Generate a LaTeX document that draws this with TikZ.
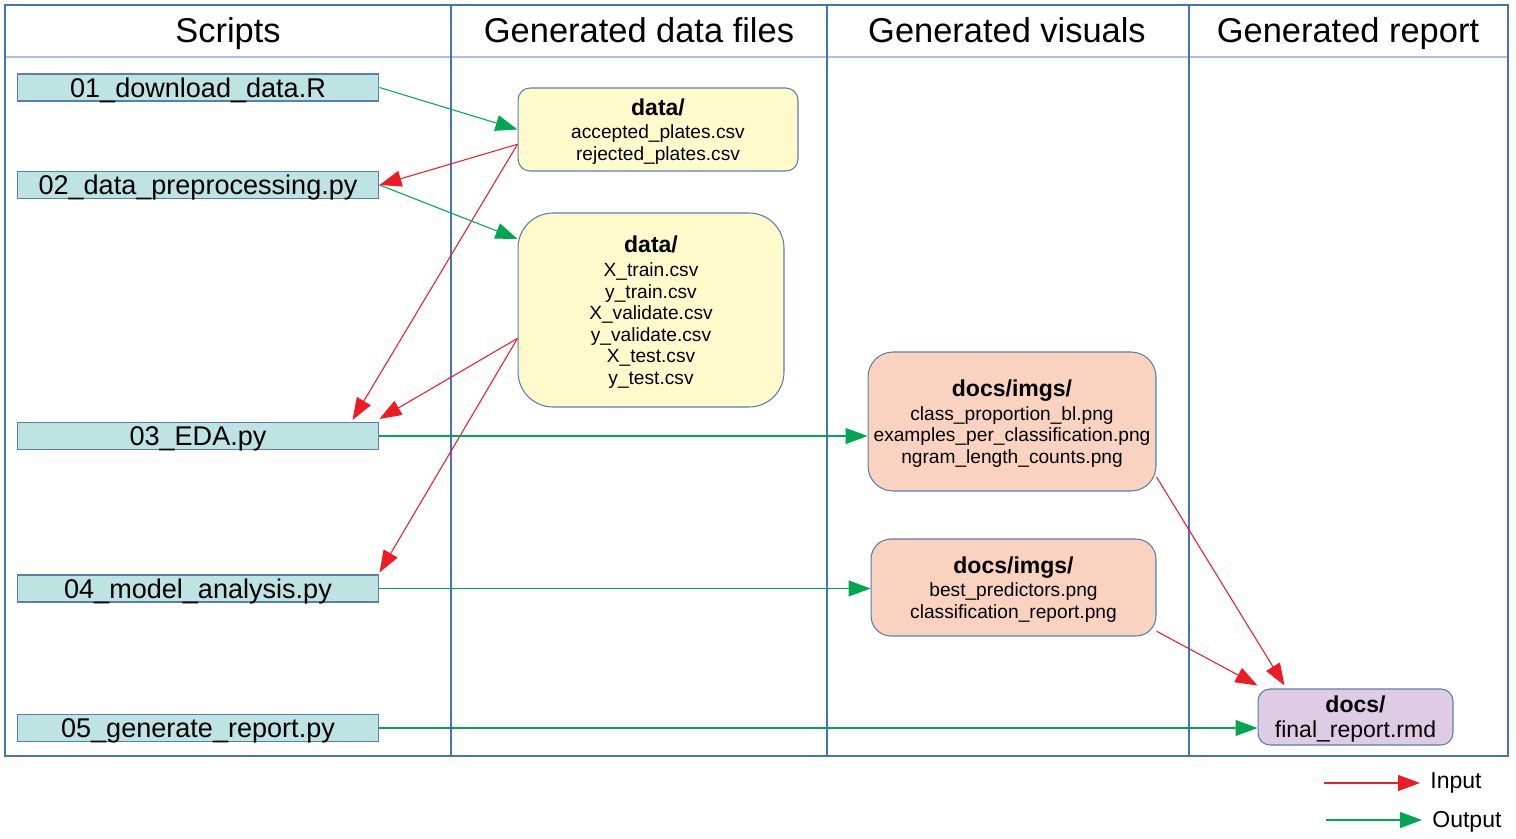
\documentclass[tikz,border=0pt]{standalone}
\usepackage{fontspec}
\setmainfont{Liberation Sans}
\usetikzlibrary{arrows.meta}
\definecolor{lanecol}{HTML}{4A72B0}
\definecolor{headcol}{HTML}{A9C1DE}
\definecolor{boxline}{HTML}{5B7DAA}
\definecolor{scriptfill}{HTML}{BDE3E3}
\definecolor{datafill}{HTML}{FFFACC}
\definecolor{visfill}{HTML}{FAD3C0}
\definecolor{repfill}{HTML}{DECCE5}
\definecolor{inred}{HTML}{ED1C24}
\definecolor{outgreen}{HTML}{00A651}
\newcommand{\boxtitle}[1]{{\fontsize{13.1}{15}\selectfont\bfseries #1}}
\tikzset{
	lanehead/.style={font=\fontsize{19.6}{22}\selectfont, anchor=base, inner sep=0pt},
	script/.style={draw=boxline, fill=scriptfill, line width=0.6pt, minimum width=7.24cm, minimum height=0.54cm, inner sep=0pt, text height=11pt, text depth=0pt, font=\fontsize{15.4}{17}\selectfont},
	filebox/.style={draw=boxline, line width=0.6pt, align=center, inner sep=0pt, text depth=-1pt, font=\fontsize{10.9}{12.3}\selectfont},
	inarrow/.style={draw=inred, line width=0.6pt, -{Triangle[length=0.44cm,width=0.32cm]}, inred},
	outarrow/.style={draw=outgreen, line width=0.6pt, -{Triangle[length=0.44cm,width=0.32cm]}, outgreen},
	legendtext/.style={font=\fontsize{13.1}{15}\selectfont, inner sep=0pt, anchor=base west}
}
\begin{document}
\begin{tikzpicture}[x=0.02cm, y=-0.02cm]
	\useasboundingbox (0,0) rectangle (1516,839);

	\draw[headcol, line width=0.8pt] (5,57) -- (1508,57);
	\draw[lanecol, line width=0.8pt] (5,5) rectangle (1508,756);
	\foreach \lx in {451, 827, 1189}
		\draw[lanecol, line width=0.8pt] (\lx,5) -- (\lx,756);

	\node[lanehead] (hscripts) at (228,42) {Scripts};
	\node[lanehead] (hdata) at (639,42) {Generated data files};
	\node[lanehead] (hvis) at (1007,42) {Generated visuals};
	\node[lanehead] (hrep) at (1348,42) {Generated report};

	\node[script] (dl) at (198,87.5) {01\_download\_data.R};
	\node[script] (prep) at (198,185) {02\_data\_preprocessing.py};
	\node[script] (eda) at (198,436) {03\_EDA.py};
	\node[script] (model) at (198,588.5) {04\_model\_analysis.py};
	\node[script] (gen) at (198,728) {05\_generate\_report.py};

	\node[filebox, fill=datafill, rounded corners=0.24cm, minimum width=5.6cm, minimum height=1.66cm] (plates) at (658,129.5)
		{\boxtitle{data/}\\[0.8pt] accepted\_plates.csv\\[0.3pt] rejected\_plates.csv};
	\node[filebox, fill=datafill, rounded corners=0.7cm, minimum width=5.32cm, minimum height=3.88cm] (splits) at (651,310)
		{\boxtitle{data/}\\[1.6pt] X\_train.csv\\ y\_train.csv\\ X\_validate.csv\\ y\_validate.csv\\ X\_test.csv\\ y\_test.csv};
	\node[filebox, fill=visfill, rounded corners=0.5cm, minimum width=5.76cm, minimum height=2.78cm] (edaimgs) at (1012,421.5)
		{\boxtitle{docs/imgs/}\\[1.5pt] class\_proportion\_bl.png\\ examples\_per\_classification.png\\ ngram\_length\_counts.png};
	\node[filebox, fill=visfill, rounded corners=0.4cm, minimum width=5.7cm, minimum height=1.94cm] (modelimgs) at (1013.5,587.5)
		{\boxtitle{docs/imgs/}\\[1pt] best\_predictors.png\\ classification\_report.png};
	\node[filebox, fill=repfill, rounded corners=0.24cm, minimum width=3.9cm, minimum height=1.12cm, text depth=0.5pt, font=\fontsize{13.1}{14.3}\selectfont] (report) at (1355.5,717)
		{\boxtitle{docs/}\\ final\_report.rmd};

	\draw[outarrow] (dl.east) -- (plates.west);
	\draw[inarrow] (plates.186) -- (prep.east);
	\draw[inarrow] (plates.186) -- ([xshift=-0.54cm, yshift=0.04cm]eda.north east);
	\draw[outarrow] (prep.east) -- (splits.152);
	\draw[inarrow] (splits.192) -- ([yshift=0.06cm]eda.north east);
	\draw[inarrow] (splits.192) -- ([yshift=0.04cm]model.north east);
	\draw[outarrow] (eda.east) -- (eda.east -| edaimgs.west);
	\draw[outarrow] (model.east) -- (model.east -| modelimgs.west);
	\draw[outarrow] (gen.east) -- (gen.east -| report.west);
	\draw[inarrow] (edaimgs.339) -- ([xshift=0.54cm, yshift=0.06cm]report.north west);
	\draw[inarrow] (modelimgs.343) -- ([yshift=0.06cm]report.north west);

	\coordinate (inA) at (1324,783);
	\coordinate (inB) at (1420,783);
	\coordinate (outA) at (1326,820);
	\coordinate (outB) at (1422,820);
	\draw[inarrow] (inA) -- (inB);
	\draw[outarrow] (outA) -- (outB);
	\node[legendtext] (inlbl) at (1430,788) {Input};
	\node[legendtext] (outlbl) at (1432,827) {Output};
\end{tikzpicture}
\end{document}
